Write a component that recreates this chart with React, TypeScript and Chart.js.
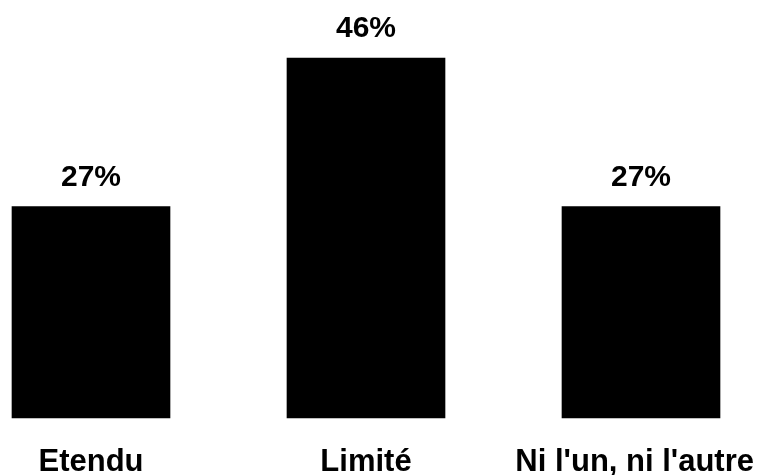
import React, { useEffect, useRef } from "react";
import { Chart, registerables } from "chart.js";

Chart.register(...registerables);

const categories = ["Etendu", "Limité", "Ni l'un, ni l'autre"];
const values = [27, 46, 27];
const valueLabels = ["27%", "46%", "27%"];

const labelPlugin = {
  id: "customLabels",
  afterDatasetsDraw(chart: any) {
    const { ctx } = chart;
    const meta = chart.getDatasetMeta(0);
    const xScale = chart.scales.x;
    ctx.save();
    ctx.fillStyle = "#000";
    ctx.textAlign = "center";
    ctx.textBaseline = "alphabetic";
    meta.data.forEach((bar: any, i: number) => {
      ctx.font = "bold 30px 'Liberation Sans', Arial, sans-serif";
      ctx.fillText(valueLabels[i], bar.x, bar.y - 21);
      ctx.font = "bold 31px 'Liberation Sans', Arial, sans-serif";
      const w = ctx.measureText(categories[i]).width;
      let x = xScale.getPixelForValue(i);
      x = Math.min(x, chart.width - 15 - w / 2);
      ctx.fillText(categories[i], x, 471);
    });
    ctx.restore();
  },
};

export default function App() {
  const ref = useRef<HTMLCanvasElement>(null);
  useEffect(() => {
    document.body.style.margin = "0";
    const chart = new Chart(ref.current!, {
      type: "bar",
      data: {
        labels: categories,
        datasets: [
          {
            data: values,
            backgroundColor: "#000000",
            borderWidth: 0,
            barThickness: 158,
            clip: false,
          } as any,
        ],
      },
      options: {
        animation: false,
        responsive: false,
        maintainAspectRatio: false,
        layout: { padding: { left: 91, right: 128, top: 58, bottom: 57 } },
        plugins: { legend: { display: false }, tooltip: { enabled: false } },
        scales: {
          x: { display: false, offset: false, grid: { display: false } },
          y: { display: false, min: 0, max: 46 },
        },
      },
      plugins: [labelPlugin],
    });
    return () => chart.destroy();
  }, []);
  return (
    <div style={{ width: 769, height: 475, background: "#fff" }}>
      <canvas ref={ref} width={769} height={475} style={{ width: 769, height: 475, display: "block" }} />
    </div>
  );
}
